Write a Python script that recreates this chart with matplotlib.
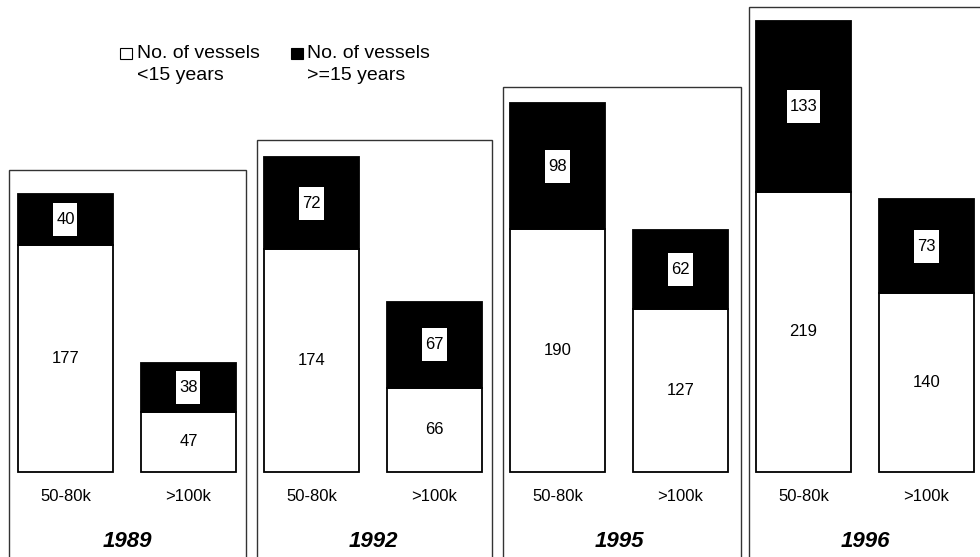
import matplotlib.pyplot as plt
from matplotlib.patches import Rectangle

plt.rcParams['font.family'] = ['Liberation Sans', 'DejaVu Sans']

# data
years = ["1989", "1992", "1995", "1996"]
sizes = ["50-80k", ">100k"]
young = [177, 47, 174, 66, 190, 127, 219, 140]   # <15 years
old = [40, 38, 72, 67, 98, 62, 133, 73]          # >=15 years
legend_labels = [["No. of vessels", "<15 years"], ["No. of vessels", ">=15 years"]]

# layout
box_tops = [236, 259, 301, 363]
box_left = [-0.46, 1.555, 3.56, 5.555]
box_right = [1.47, 3.47, 5.49, 7.6]
bar_w = 0.77

fig = plt.figure(figsize=(9.8, 5.57), dpi=100)
ax = fig.add_axes([0, 0, 1, 1])
ax.set_xlim(-0.532, 7.435)
ax.set_ylim(-66.4, 368.75)
ax.axis("off")

x = list(range(len(young)))

# year boxes
for i in range(len(years)):
    ax.add_patch(Rectangle((box_left[i], -100), box_right[i] - box_left[i], box_tops[i] + 100,
                           fill=False, edgecolor="#333333", linewidth=1.0, zorder=1))
    ax.text((x[2 * i] + x[2 * i + 1]) / 2, -54.5, years[i], ha="center", va="center",
            fontsize=16, fontweight="bold", fontstyle="italic")

# stacked bars
ax.bar(x, young, width=bar_w, color="white", edgecolor="black", linewidth=1.3, zorder=2)
ax.bar(x, old, width=bar_w, bottom=young, color="black", edgecolor="black", linewidth=1.3, zorder=2)

for i in x:
    ax.text(x[i], young[i] / 2, str(young[i]), ha="center", va="center", fontsize=12, zorder=4)
    yc = young[i] + old[i] / 2
    lab = str(old[i])
    bw = (len(lab) * 9.3 + 5.5) / 123.0
    bh = 33 / 1.28
    ax.add_patch(Rectangle((x[i] - bw / 2, yc - bh / 2), bw, bh, facecolor="white",
                           edgecolor="none", zorder=3))
    ax.text(x[i], yc, lab, ha="center", va="center", fontsize=12, zorder=4)
    ax.text(x[i], -19.5, sizes[i % 2], ha="center", va="center", fontsize=12)

# legend drawn by hand
sq_x = [120, 291]
txt_x = [137, 307]
sq_col = ["white", "black"]
for k in range(2):
    ax.add_patch(Rectangle((sq_x[k] / 980, 1 - 59 / 557), 12 / 980, 11 / 557,
                           transform=ax.transAxes, facecolor=sq_col[k],
                           edgecolor="black", linewidth=0.8))
    ax.text(txt_x[k] / 980, 1 - 53 / 557, legend_labels[k][0], transform=ax.transAxes,
            ha="left", va="center", fontsize=14)
    ax.text(txt_x[k] / 980, 1 - 76 / 557, legend_labels[k][1], transform=ax.transAxes,
            ha="left", va="center", fontsize=14)

plt.savefig("out.png", dpi=100)
